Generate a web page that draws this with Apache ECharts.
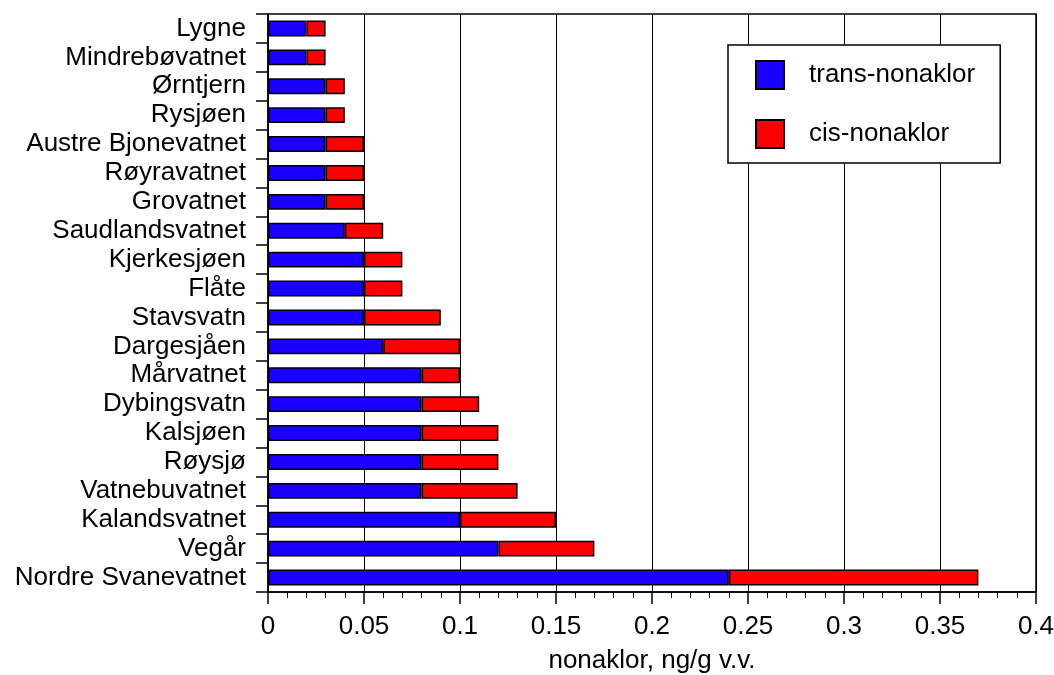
<!DOCTYPE html>
<html>
<head>
<meta charset="utf-8">
<script src="https://cdn.jsdelivr.net/npm/echarts@6/dist/echarts.min.js"></script>
<style>
html,body{margin:0;padding:0;background:#fff;}
#c{width:1054px;height:675px;}
</style>
</head>
<body>
<div id="c"></div>
<script>
const categories = ["Lygne","Mindrebøvatnet","Ørntjern","Rysjøen","Austre Bjonevatnet","Røyravatnet","Grovatnet","Saudlandsvatnet","Kjerkesjøen","Flåte","Stavsvatn","Dargesjåen","Mårvatnet","Dybingsvatn","Kalsjøen","Røysjø","Vatnebuvatnet","Kalandsvatnet","Vegår","Nordre Svanevatnet"];
const transNonaklor = [0.02,0.02,0.03,0.03,0.03,0.03,0.03,0.04,0.05,0.05,0.05,0.06,0.08,0.08,0.08,0.08,0.08,0.10,0.12,0.24];
const cisNonaklor   = [0.01,0.01,0.01,0.01,0.02,0.02,0.02,0.02,0.02,0.02,0.04,0.04,0.02,0.03,0.04,0.04,0.05,0.05,0.05,0.13];
const seriesNames = ["trans-nonaklor","cis-nonaklor"];
const axisTitle = "nonaklor, ng/g v.v.";

const font = "'Liberation Sans', Arial, Helvetica, sans-serif";
const chart = echarts.init(document.getElementById('c'), null, {renderer:'canvas'});
chart.setOption({
  animation:false,
  backgroundColor:'#fff',
  textStyle:{fontFamily:font},
  grid:{left:268, right:18, top:14, bottom:83, show:true, borderColor:'#000', borderWidth:1.5,
        containLabel:false, outerBoundsMode:'none'},
  legend:{
    data:seriesNames,
    orient:'vertical',
    left:728, top:45,
    padding:[15,25,14,27],
    itemWidth:28, itemHeight:28, itemGap:29,
    backgroundColor:'#fff',
    borderColor:'#000', borderWidth:1.5, borderRadius:0,
    icon:'rect',
    textStyle:{fontSize:26, color:'#000', fontFamily:font, padding:[0,0,0,20]}
  },
  xAxis:{
    type:'value', min:0, max:0.4, interval:0.05,
    name:axisTitle, nameLocation:'middle', nameGap:56,
    nameTextStyle:{fontSize:26, color:'#000', fontFamily:font},
    axisLine:{show:true, lineStyle:{color:'#000', width:1.5}},
    axisTick:{show:true, length:12, lineStyle:{color:'#000', width:1.5}},
    minorTick:{show:true, splitNumber:5, length:6, lineStyle:{color:'#000', width:1}},
    splitLine:{show:true, lineStyle:{color:'#000', width:1}},
    axisLabel:{fontSize:26, color:'#000', margin:22, fontFamily:font,
      formatter:function(v){return String(Math.round(v*100)/100);}}
  },
  yAxis:{
    type:'category', data:categories, inverse:true,
    axisLine:{show:true, lineStyle:{color:'#000', width:1.5}},
    axisTick:{show:true, length:12, alignWithLabel:false, lineStyle:{color:'#000', width:1.5}},
    splitLine:{show:false},
    axisLabel:{fontSize:26, color:'#000', margin:22, fontFamily:font, interval:0}
  },
  series:[
    {name:seriesNames[0], type:'bar', stack:'tot', data:transNonaklor, barWidth:'55%',
     itemStyle:{color:'#1a00ff', borderColor:'#000', borderWidth:1.5}},
    {name:seriesNames[1], type:'bar', stack:'tot', data:cisNonaklor, barWidth:'55%',
     itemStyle:{color:'#ff0000', borderColor:'#000', borderWidth:1.5}}
  ]
});
</script>
</body>
</html>
